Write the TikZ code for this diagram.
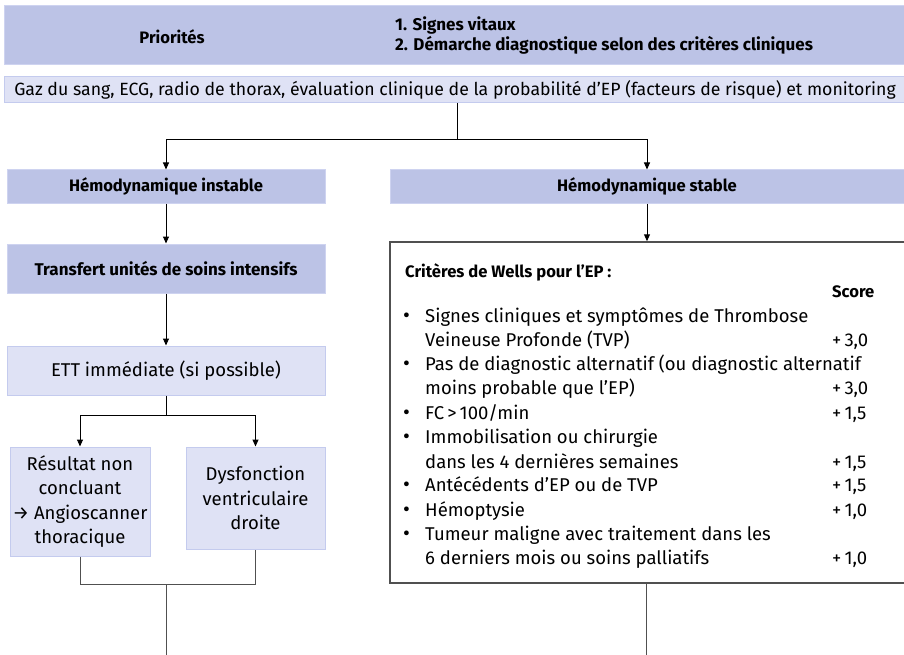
\documentclass[tikz,border=0pt]{standalone}
\usepackage{fontspec}
\setmainfont{Fira Sans}
\usetikzlibrary{arrows.meta}
\definecolor{dkfill}{RGB}{188,195,230}
\definecolor{dkline}{RGB}{206,211,240}
\definecolor{ltfill}{RGB}{223,226,245}
\definecolor{ltline}{RGB}{196,203,238}
\definecolor{grayline}{RGB}{80,80,80}
\tikzset{
  dkbox/.style={draw=dkline, fill=dkfill, line width=1pt, inner sep=0pt, align=center},
  ltbox/.style={draw=ltline, fill=ltfill, line width=1pt, inner sep=0pt, align=center},
  conn/.style={draw=black, line width=1pt},
  arr/.style={conn, -{Triangle[length=7pt,width=6pt]}},
  hdr/.style={font=\fontsize{16.6}{20.5}\selectfont\bfseries},
  hdrb/.style={font=\fontsize{17}{20.5}\selectfont\bfseries},
  body/.style={font=\fontsize{18.5}{24.3}\selectfont},
  wl/.style={anchor=base west, inner sep=0pt, font=\fontsize{18.5}{24.3}\selectfont},
  wbul/.style={anchor=base west, inner sep=0pt, font=\fontsize{21}{24.3}\selectfont},
}
\begin{document}
\begin{tikzpicture}[x=1pt,y=-1pt]
\useasboundingbox (0,0) rectangle (904,655);
\clip (0,0) rectangle (904,655);
% top boxes
\node[dkbox, minimum width=906pt, minimum height=59pt] (prio) at (457,35.5) {};
\node[hdr, inner sep=0pt] (priot) at (172,37) {Priorités};
\node[hdrb, inner sep=0pt, anchor=west, align=left] (prioitems) at (395,35.5) {1. Signes vitaux\\2. Démarche diagnostique selon des critères cliniques};
\node[ltbox, minimum width=902pt, minimum height=26pt, font=\fontsize{17.7}{20}\selectfont] (gaz) at (455,90) {Gaz du sang, ECG, radio de thorax, évaluation clinique de la probabilité d’EP (facteurs de risque) et monitoring};
% second level
\node[dkbox, hdr, minimum width=318pt, minimum height=33pt] (instable) at (166,186.5) {Hémodynamique instable};
\node[dkbox, minimum width=516pt, minimum height=33pt] (stable) at (648,186.5) {};
\node[hdr, inner sep=0pt] (stablet) at (647,186.5) {Hémodynamique stable};
\node[dkbox, hdrb, minimum width=318pt, minimum height=49pt] (transfert) at (166,268.5) {Transfert unités de soins intensifs};
\node[ltbox, body, minimum width=318pt, minimum height=49pt] (ett) at (166,370.5) {ETT immédiate (si possible)};
\node[ltbox, body, minimum width=140pt, minimum height=109pt] (res) at (80,501.5) {Résultat non\\concluant\\→ Angioscanner\\thoracique};
\node[ltbox, body, minimum width=139pt, minimum height=102pt] (dys) at (255.5,498) {Dysfonction\\ventriculaire\\droite};
% Wells box
\node[draw=grayline, fill=white, line width=1.5pt, minimum width=520pt, minimum height=341pt, inner sep=0pt] (wells) at (650,412.5) {};
\node[hdr, anchor=west, inner sep=0pt] (wtitle) at (405,272) {Critères de Wells pour l'EP :};
\node[hdr, anchor=west, inner sep=0pt] (wscore) at (832,292) {Score};
% lines
\node[wbul] (wb1) at (403,322.5) {•};
\node[wl] (wt1) at (425,322.5) {Signes cliniques et symptômes de Thrombose};
\node[wl] (wt2) at (425,346.5) {Veineuse Profonde (TVP)};
\node[wl] (ws2) at (832,346.5) {+\,3,0};
\node[wbul] (wb3) at (403,370.5) {•};
\node[wl] (wt3) at (425,370.5) {Pas de diagnostic alternatif (ou diagnostic alternatif};
\node[wl] (wt4) at (425,394.5) {moins probable que l’EP)};
\node[wl] (ws4) at (832,394.5) {+\,3,0};
\node[wbul] (wb5) at (403,419.5) {•};
\node[wl] (wt5) at (425,419.5) {FC\,>\,100/min};
\node[wl] (ws5) at (832,419.5) {+\,1,5};
\node[wbul] (wb6) at (403,443.5) {•};
\node[wl] (wt6) at (425,443.5) {Immobilisation ou chirurgie};
\node[wl] (wt7) at (425,468.5) {dans les 4 dernières semaines};
\node[wl] (ws7) at (832,468.5) {+\,1,5};
\node[wbul] (wb8) at (403,491.5) {•};
\node[wl] (wt8) at (425,491.5) {Antécédents d’EP ou de TVP};
\node[wl] (ws8) at (832,491.5) {+\,1,5};
\node[wbul] (wb9) at (403,516.5) {•};
\node[wl] (wt9) at (425,516.5) {Hémoptysie};
\node[wl] (ws9) at (832,516.5) {+\,1,0};
\node[wbul] (wb10) at (403,540.5) {•};
\node[wl] (wt10) at (425,540.5) {Tumeur maligne avec traitement dans les};
\node[wl] (wt11) at (425,564.5) {6 derniers mois ou soins palliatifs};
\node[wl] (ws11) at (832,564.5) {+\,1,0};
% connectors
\coordinate (j0) at (457,140);
\coordinate (jl) at (166,140);
\coordinate (jr) at (647,140);
\draw[conn] (gaz.south -| j0) -- (j0);
\draw[arr] (j0) -- (jl) -- (instable.north);
\draw[arr] (j0) -- (jr) -- (jr |- stable.north);
\draw[arr] (instable.south) -- (transfert.north);
\draw[arr] (jr |- stable.south) -- (jr |- wells.north);
\draw[arr] (transfert.south) -- (ett.north);
\coordinate (e0) at (166,415);
\draw[conn] (ett.south) -- (e0);
\draw[arr] (e0) -- (e0 -| res.north) -- (res.north);
\draw[arr] (e0) -- (e0 -| dys.north) -- (dys.north);
\coordinate (m0) at (166,584);
\coordinate (m1) at (166,655);
\draw[conn, draw=grayline] (res.south) -- (res.south |- m0) -- (dys.south |- m0) -- (dys.south);
\draw[conn, draw=grayline] (m0) -- (m1);
\coordinate (w1) at (646,655);
\draw[conn, draw=grayline] (wells.south -| w1) -- (w1);
\end{tikzpicture}
\end{document}
